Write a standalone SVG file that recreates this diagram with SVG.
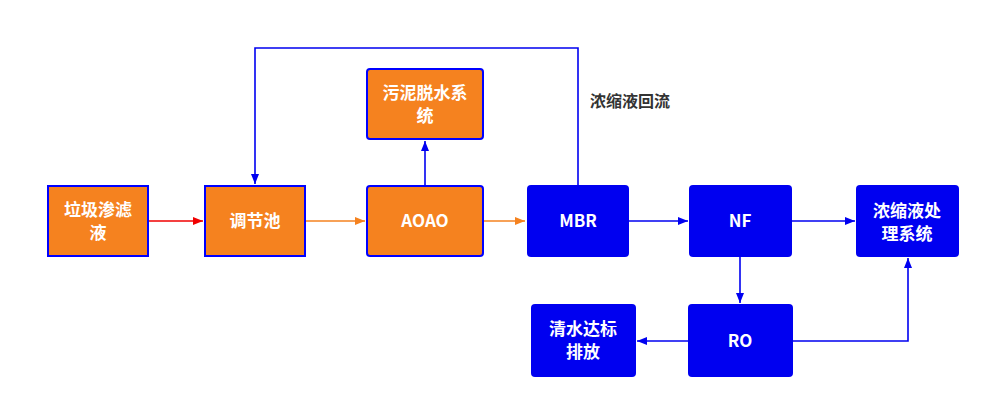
<svg xmlns="http://www.w3.org/2000/svg" width="990" height="409" viewBox="0 0 990 409">
<style>
.or{fill:#F5821F;stroke:#0000FF;stroke-width:2}
.bl{fill:#0000F0;stroke:none}
.t{fill:#fff;font-family:"Noto Sans CJK SC","Noto Sans",sans-serif;font-weight:bold;font-size:17px;text-anchor:middle}
.c{fill:none;stroke-width:1.6}
.lbl{fill:#333;font-family:"Noto Sans CJK SC","Noto Sans",sans-serif;font-weight:bold;font-size:16px}
</style>
<defs>
<marker id="ab" viewBox="0 0 10 10" refX="10" refY="5" markerWidth="10" markerHeight="10" markerUnits="userSpaceOnUse" orient="auto"><path d="M0,1 L10,5 L0,9 Z" fill="#0000F0"/></marker>
<marker id="ar" viewBox="0 0 10 10" refX="10" refY="5" markerWidth="12" markerHeight="10" markerUnits="userSpaceOnUse" orient="auto"><path d="M0,1 L10,5 L0,9 Z" fill="#F00000"/></marker>
<marker id="ao" viewBox="0 0 10 10" refX="10" refY="5" markerWidth="12" markerHeight="10" markerUnits="userSpaceOnUse" orient="auto"><path d="M0,1 L10,5 L0,9 Z" fill="#F5821F"/></marker>
</defs>
<rect width="990" height="409" fill="#fff"/>
<g id="connectors">
<line class="c" x1="149" y1="221" x2="203" y2="221" stroke="#F00000" marker-end="url(#ar)"/>
<line class="c" x1="306" y1="221" x2="365" y2="221" stroke="#F5821F" marker-end="url(#ao)"/>
<line class="c" x1="484" y1="221" x2="525" y2="221" stroke="#F5821F" marker-end="url(#ao)"/>
<line class="c" x1="629" y1="221" x2="688" y2="221" stroke="#0000F0" marker-end="url(#ab)"/>
<line class="c" x1="792" y1="221" x2="855" y2="221" stroke="#0000F0" marker-end="url(#ab)"/>
<line class="c" x1="740" y1="257" x2="740" y2="303" stroke="#0000F0" marker-end="url(#ab)"/>
<line class="c" x1="688" y1="341" x2="637" y2="341" stroke="#0000F0" marker-end="url(#ab)"/>
<polyline class="c" points="793,341 908,341 908,258" stroke="#0000F0" marker-end="url(#ab)"/>
<line class="c" x1="425" y1="185" x2="425" y2="141" stroke="#0000F0" marker-end="url(#ab)"/>
<polyline class="c" points="578,185 578,48 255,48 255,184" stroke="#0000F0" marker-end="url(#ab)"/>
<text class="lbl" x="590" y="107">浓缩液回流</text>
</g>
<g id="n1"><rect class="or" x="48" y="186" width="100" height="70"/><text class="t" x="98" y="216">垃圾渗滤</text><text class="t" x="98" y="239">液</text></g>
<g id="n2"><rect class="or" x="205" y="186" width="100" height="70"/><text class="t" x="255" y="227">调节池</text></g>
<g id="n3"><rect class="or" x="367" y="186" width="116" height="70" rx="3"/><text class="t" x="425" y="227">AOAO</text></g>
<g id="n4"><rect class="or" x="367" y="69" width="116" height="70" rx="3"/><text class="t" x="425" y="99">污泥脱水系</text><text class="t" x="425" y="122">统</text></g>
<g id="n5"><rect class="bl" x="527" y="185" width="102" height="72" rx="4"/><text class="t" x="578" y="227">MBR</text></g>
<g id="n6"><rect class="bl" x="689" y="185" width="103" height="72" rx="4"/><text class="t" x="740" y="227">NF</text></g>
<g id="n7"><rect class="bl" x="856" y="185" width="103" height="72" rx="4"/><text class="t" x="907" y="217">浓缩液处</text><text class="t" x="907" y="240">理系统</text></g>
<g id="n8"><rect class="bl" x="688" y="304" width="105" height="73" rx="4"/><text class="t" x="740" y="347">RO</text></g>
<g id="n9"><rect class="bl" x="531" y="304" width="105" height="73" rx="4"/><text class="t" x="583" y="335">清水达标</text><text class="t" x="583" y="358">排放</text></g>
</svg>
